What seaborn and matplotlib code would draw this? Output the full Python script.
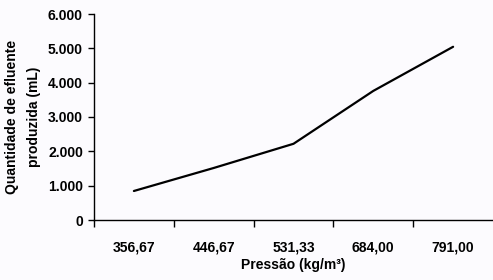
import matplotlib
matplotlib.use("Agg")
import matplotlib.pyplot as plt
import seaborn as sns
import pandas as pd
from matplotlib.ticker import FuncFormatter, FixedLocator, NullFormatter

pressures = ["356,67", "446,67", "531,33", "684,00", "791,00"]
effluent = [845, 1515, 2220, 3760, 5045]
y_ticks = [0, 1000, 2000, 3000, 4000, 5000, 6000]

sns.set_theme(style="white")
plt.rcParams['font.family'] = ['Liberation Sans', 'DejaVu Sans']
bg = '#FCFBFE'

df = pd.DataFrame({"Pressão": pressures, "Efluente": effluent})

fig = plt.figure(figsize=(4.93, 2.80), dpi=100, facecolor=bg)
ax = fig.add_axes([94/493, 60/280, 399/493, 206/280])
ax.set_facecolor(bg)

sns.lineplot(data=df, x="Pressão", y="Efluente", ax=ax, color="black", linewidth=1.6, sort=False)

ax.set_xlim(-0.5, 4.5)
ax.set_ylim(0, 6000)
ax.set_yticks(y_ticks)
ax.yaxis.set_major_formatter(FuncFormatter(lambda v, p: f"{int(v):,}".replace(",", ".")))
ax.set_xticks(range(len(pressures)))
ax.set_xticklabels(pressures)
ax.xaxis.set_minor_locator(FixedLocator([-0.5, 0.5, 1.5, 2.5, 3.5]))
ax.xaxis.set_minor_formatter(NullFormatter())
ax.tick_params(axis='x', which='major', length=0, pad=15, labelsize=10, colors='black')
ax.tick_params(axis='x', which='minor', length=5, width=1, color='black', bottom=True)
ax.tick_params(axis='y', which='major', length=4, width=1, color='black', left=True, pad=4, labelsize=10, labelcolor='black')
for lab in ax.get_xticklabels() + ax.get_yticklabels():
    lab.set_fontweight('bold')

for s in ['top', 'right']:
    ax.spines[s].set_visible(False)
for s in ['left', 'bottom']:
    ax.spines[s].set_color('black')
    ax.spines[s].set_linewidth(1)

ax.set_xlabel("Pressão (kg/m³)", fontsize=10, fontweight='bold', labelpad=2, color='black')
ax.set_ylabel("Quantidade de efluente\nproduzida (mL)", fontsize=10, fontweight='bold',
              linespacing=1.7, color='black')
ax.yaxis.set_label_coords(-53/399, 0.5)
ax.grid(False)

fig.savefig("out.png", dpi=100, facecolor=bg)
